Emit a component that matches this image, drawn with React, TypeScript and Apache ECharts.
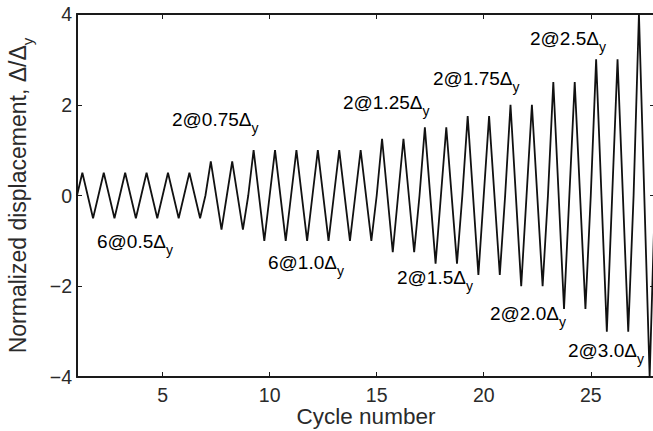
import React, { useEffect, useRef } from "react";
import * as echarts from "echarts";

// Peak amplitude (Δ/Δy) of each loading cycle, cycle 1 .. 27
const cycleNumbers = [1, 2, 3, 4, 5, 6, 7, 8, 9, 10, 11, 12, 13, 14, 15, 16, 17, 18, 19, 20, 21, 22, 23, 24, 25, 26, 27];
const peakAmplitudes = [0.5, 0.5, 0.5, 0.5, 0.5, 0.5, 0.75, 0.75, 1.0, 1.0, 1.0, 1.0, 1.0, 1.0, 1.25, 1.25, 1.5, 1.5, 1.75, 1.75, 2.0, 2.0, 2.5, 2.5, 3.0, 3.0, 4.0];
const xTicks = [5, 10, 15, 20, 25];
const yTicks = [-4, -2, 0, 2, 4];
const annotationTexts = ["6@0.5", "2@0.75", "6@1.0", "2@1.25", "2@1.5", "2@1.75", "2@2.0", "2@2.5", "2@3.0"];

// layout (pixels) for annotation labels: [left, middle of main text]
const annotationLayout = [
  [97, 241],
  [172, 119],
  [268, 262],
  [343, 102],
  [397, 277],
  [433, 78],
  [490, 313],
  [530, 38],
  [568, 350],
];

const FONT = "'Liberation Sans', Arial, Helvetica, sans-serif";
const INK = "#1a1a1a";

export default function App() {
  const ref = useRef<HTMLDivElement>(null);
  useEffect(() => {
    document.body.style.margin = "0";
    const chart = echarts.init(ref.current!, null, { renderer: "svg" });
    const points: number[][] = [];
    cycleNumbers.forEach((c, i) => {
      const a = peakAmplitudes[i];
      points.push([c, 0], [c + 0.25, a], [c + 0.75, -a]);
    });
    points.push([cycleNumbers[cycleNumbers.length - 1] + 1, 0]);

    const subRich = {
      a: { fontSize: 19, fontFamily: FONT, color: "#2a2a2a", lineHeight: 32 },
      s: { fontSize: 14, fontFamily: FONT, color: "#2a2a2a", lineHeight: 14, verticalAlign: "bottom" },
    };

    const axisLine = { show: true, onZero: false, lineStyle: { color: INK, width: 2 } };
    const tickStyle = { lineStyle: { color: INK, width: 1 } };

    chart.setOption({
      animation: false,
      backgroundColor: "#ffffff",
      grid: { left: 77, top: 14, right: -2, bottom: 54, containLabel: false, outerBoundsMode: "none" },
      xAxis: [
        {
          type: "value",
          min: 1,
          max: 28,
          position: "bottom",
          axisLine,
          axisTick: { show: true, inside: true, length: 5, customValues: xTicks, ...tickStyle },
          axisLabel: {
            customValues: xTicks,
            fontSize: 19.5,
            fontFamily: FONT,
            color: "#2a2a2a",
            margin: 8,
          },
          splitLine: { show: false },
          name: "Cycle number",
          nameLocation: "middle",
          nameGap: 28,
          nameMoveOverlap: false,
          nameTextStyle: { fontSize: 22.5, fontFamily: FONT, color: "#2a2a2a" },
        },
        {
          type: "value",
          min: 1,
          max: 28,
          position: "top",
          axisLine,
          axisTick: { show: true, inside: true, length: 5, customValues: xTicks, ...tickStyle },
          axisLabel: { show: false },
          splitLine: { show: false },
        },
      ],
      yAxis: [
        {
          type: "value",
          min: -4,
          max: 4,
          interval: 2,
          position: "left",
          axisLine,
          axisTick: { show: true, inside: true, length: 5, customValues: yTicks, ...tickStyle },
          axisLabel: {
            customValues: yTicks,
            fontSize: 19.5,
            fontFamily: FONT,
            color: "#2a2a2a",
            margin: 5,
            formatter: (v: number) => (v < 0 ? "\u2212" + Math.abs(v) : String(v)),
          },
          splitLine: { show: false },
          name: "{a|Normalized displacement, Δ/Δ}{s|y}",
          nameLocation: "middle",
          nameRotate: 90,
          nameGap: 42,
          nameTextStyle: {
            rich: {
              a: { fontSize: 23, fontFamily: FONT, color: "#2a2a2a", lineHeight: 34 },
              s: { fontSize: 15, fontFamily: FONT, color: "#2a2a2a", lineHeight: 14, verticalAlign: "bottom" },
            },
          },
        },
        {
          type: "value",
          min: -4,
          max: 4,
          interval: 2,
          position: "right",
          axisLine,
          axisTick: { show: true, inside: true, length: 5, customValues: yTicks, ...tickStyle },
          axisLabel: { show: false },
          splitLine: { show: false },
        },
      ],
      series: [
        {
          type: "line",
          data: points,
          xAxisIndex: 0,
          yAxisIndex: 0,
          symbol: "none",
          lineStyle: { color: "#111111", width: 1.8 },
          silent: true,
        },
      ],
      graphic: annotationTexts.map((t, i) => ({
        type: "text",
        x: annotationLayout[i][0],
        y: annotationLayout[i][1],
        silent: true,
        style: {
          text: `{a|${t}Δ}{s|y}`,
          rich: subRich,
          verticalAlign: "middle",
          align: "left",
        },
      })),
    });
    return () => chart.dispose();
  }, []);
  return <div ref={ref} style={{ width: 653, height: 431 }} />;
}
